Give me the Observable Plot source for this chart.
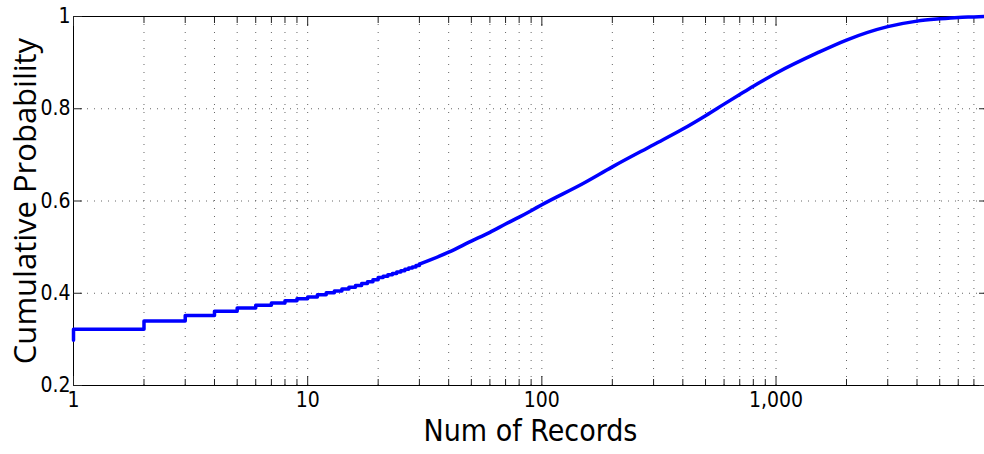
<!DOCTYPE html>
<html>
<head>
<meta charset="utf-8">
<script src="https://cdn.jsdelivr.net/npm/d3@7"></script>
<script src="https://cdn.jsdelivr.net/npm/@observablehq/plot@0.6"></script>
<style>
  html, body { margin: 0; padding: 0; background: #fff; }
  #chart svg { display: block; }
</style>
</head>
<body>
<div id="chart"></div>
<script>
const stepRecords = [1, 1, 2, 3, 4, 5, 6, 7, 8, 9, 10, 11, 12, 13, 14, 15, 16, 17, 18, 19, 20, 21, 22, 23, 24, 25, 26, 27, 28, 29, 30];
const stepProb    = [0.298, 0.322, 0.340, 0.352, 0.361, 0.368, 0.374, 0.379, 0.384, 0.388, 0.392, 0.397, 0.401, 0.405, 0.409, 0.413, 0.417, 0.421, 0.425, 0.429, 0.434, 0.437, 0.440, 0.443, 0.446, 0.449, 0.452, 0.455, 0.457, 0.460, 0.463];
// continuous-looking part
const smoothRecords = [30, 40, 50, 60, 70, 80, 90, 100, 150, 200, 300, 400, 500, 600, 700, 800, 900, 1000, 1500, 2000, 3000, 4000, 5000, 6000, 7000, 8000];
const smoothProb    = [0.463, 0.489, 0.513, 0.532, 0.550, 0.565, 0.579, 0.592, 0.638, 0.674, 0.722, 0.756, 0.785, 0.810, 0.831, 0.849, 0.864, 0.877, 0.921, 0.949, 0.978, 0.990, 0.995, 0.998, 0.999, 1.0];

const xMajorTicks = [1, 10, 100, 1000];
const xMajorLabels = ["1", "10", "100", "1,000"];
const xMinorTicks = [2,3,4,5,6,7,8,9, 20,30,40,50,60,70,80,90, 200,300,400,500,600,700,800,900, 2000,3000,4000,5000,6000,7000];
const yTicks = [0.2, 0.4, 0.6, 0.8, 1];
const yTickLabels = ["0.2", "0.4", "0.6", "0.8", "1"];
const xDomain = [1, 8000];
const yDomain = [0.2, 1];
const xTitle = "Num of Records";
const yTitle = "Cumulative Probability";

const steps = stepRecords.map((x, i) => ({x, y: stepProb[i]}));
const smooth = smoothRecords.map((x, i) => ({x, y: smoothProb[i]}));
const allX = [...xMajorTicks, ...xMinorTicks];

const font = "'Liberation Sans Narrow', 'DejaVu Sans Condensed', 'Roboto', sans-serif";

const chart = Plot.plot({
  width: 984,
  height: 454,
  marginLeft: 73,
  marginRight: -3,
  marginTop: 16,
  marginBottom: 69,
  style: {fontFamily: font, background: "#fff", color: "#000", overflow: "visible"},
  x: {type: "log", domain: xDomain},
  y: {domain: yDomain},
  marks: [
    Plot.gridX(allX, {stroke: "#666", strokeOpacity: 1, strokeWidth: 1, strokeDasharray: "1,7"}),
    Plot.gridY(yTicks, {stroke: "#666", strokeOpacity: 1, strokeWidth: 1, strokeDasharray: "1,6"}),
    Plot.frame({stroke: "#000", strokeWidth: 1}),
    // inward tick marks, MATLAB style (bottom/top/left/right)
    Plot.axisX({ticks: xMinorTicks, anchor: "bottom", tickSize: -6, tickFormat: () => "", label: null, stroke: "#222"}),
    Plot.axisX({ticks: xMajorTicks, anchor: "bottom", tickSize: -9, tickFormat: () => "", label: null, stroke: "#222"}),
    Plot.axisX({ticks: xMinorTicks, anchor: "top", tickSize: -6, tickFormat: () => "", label: null, stroke: "#222"}),
    Plot.axisX({ticks: xMajorTicks, anchor: "top", tickSize: -9, tickFormat: () => "", label: null, stroke: "#222"}),
    Plot.axisY({ticks: yTicks, anchor: "left", tickSize: -9, tickFormat: () => "", label: null, stroke: "#222"}),
    Plot.axisY({ticks: yTicks, anchor: "right", tickSize: -9, tickFormat: () => "", label: null, stroke: "#222"}),
    // tick labels
    Plot.axisX({ticks: xMajorTicks, anchor: "bottom", tickSize: 0, tickPadding: 7, fontSize: 21, label: null,
      tickFormat: d => xMajorLabels[xMajorTicks.indexOf(d)]}),
    Plot.axisY({ticks: yTicks, anchor: "left", tickSize: 0, tickPadding: 3, fontSize: 21, label: null,
      tickFormat: d => yTickLabels[yTicks.indexOf(d)]}),
    // data
    Plot.line(steps, {x: "x", y: "y", curve: "step-after", stroke: "#0000ff", strokeWidth: 3.5}),
    Plot.line(smooth, {x: "x", y: "y", curve: "monotone-x", stroke: "#0000ff", strokeWidth: 3.5}),
    // titles
    Plot.text([xTitle], {frameAnchor: "bottom", dy: 46, lineAnchor: "middle", textAnchor: "middle", fontSize: 30, fill: "#000", fontFamily: font}),
    Plot.text([yTitle], {frameAnchor: "left", dx: -47, rotate: -90, lineAnchor: "middle", textAnchor: "middle", fontSize: 31, fill: "#000", fontFamily: "'Open Sans', 'DejaVu Sans', sans-serif"})
  ]
});
document.getElementById("chart").appendChild(chart);
</script>
</body>
</html>
